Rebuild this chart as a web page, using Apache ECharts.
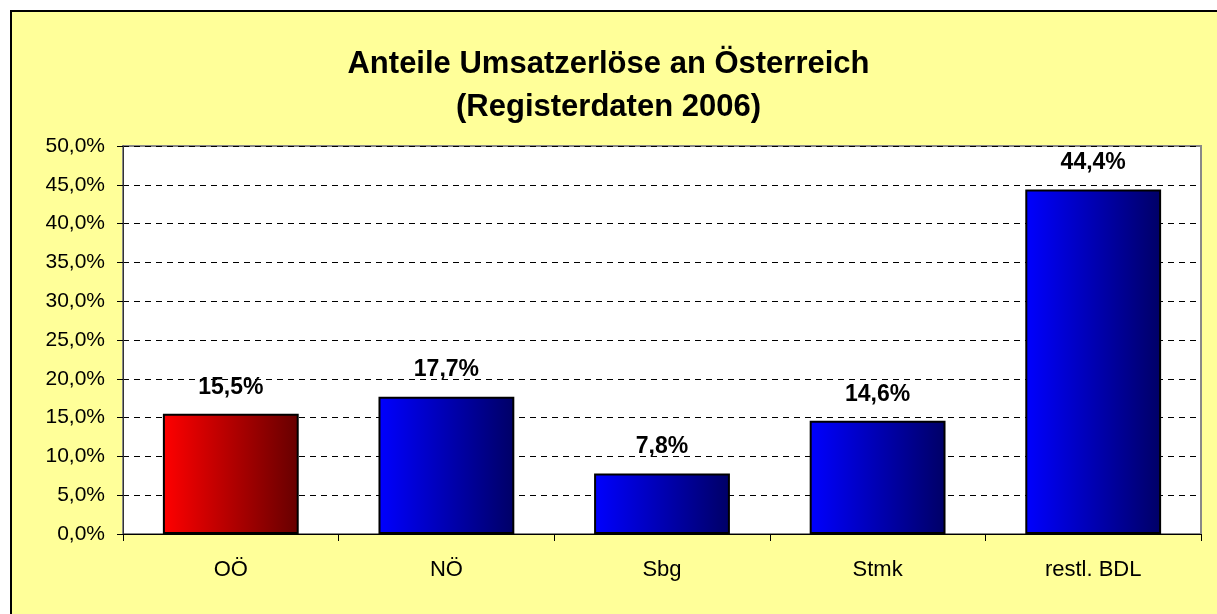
<!DOCTYPE html>
<html><head><meta charset="utf-8">
<script src="https://cdn.jsdelivr.net/npm/echarts@6/dist/echarts.min.js"></script>
<style>
html,body{margin:0;padding:0;background:#fff;}
#frame{position:absolute;left:10px;top:10px;width:1220px;height:620px;border:2px solid #000;background:#FFFF99;}
#c{position:absolute;left:0;top:0;width:1217px;height:614px;}
</style></head><body>
<div id="frame"></div>
<div id="c"></div>
<script>
const titleLines = ['Anteile Umsatzerlöse an Österreich', '(Registerdaten 2006)'];
const categories = ['OÖ', 'NÖ', 'Sbg', 'Stmk', 'restl. BDL'];
const shares = [15.5, 17.7, 7.8, 14.6, 44.4];
const highlightIndex = 0;

const fmt = v => v.toFixed(1).replace('.', ',') + '%';
const grad = (a, b) => new echarts.graphic.LinearGradient(0, 0, 1, 0, [{offset: 0, color: a}, {offset: 1, color: b}]);

const chart = echarts.init(document.getElementById('c'), null, {renderer: 'canvas'});
chart.setOption({
  backgroundColor: 'transparent',
  animation: false,
  title: {
    text: titleLines.join('\n'),
    left: 'center', top: 38,
    textStyle: {fontFamily: 'Liberation Sans', fontSize: 31, fontWeight: 'bold', color: '#000', lineHeight: 43}
  },
  grid: {left: 123, right: 16, top: 146, bottom: 80, show: true, backgroundColor: '#fff', borderColor: '#888', borderWidth: 2},
  xAxis: {
    type: 'category', data: categories,
    axisLine: {lineStyle: {color: '#000', width: 1}},
    axisTick: {show: true, length: 7, lineStyle: {color: '#000'}},
    axisLabel: {fontFamily: 'Liberation Sans', fontSize: 22, color: '#000', margin: 25}
  },
  yAxis: {
    type: 'value', min: 0, max: 50, interval: 5,
    axisLine: {show: true, lineStyle: {color: '#333'}},
    axisTick: {show: true, length: 6, lineStyle: {color: '#000'}},
    axisLabel: {fontFamily: 'Liberation Sans', fontSize: 21, color: '#000', margin: 18, formatter: v => fmt(v)},
    splitLine: {show: true, lineStyle: {color: '#000', type: [6, 5], width: 1}}
  },
  series: [{
    type: 'bar',
    data: shares.map((v, i) => ({
      value: v,
      itemStyle: {color: i === highlightIndex ? grad('#FF0000', '#660000') : grad('#0000FF', '#000066')}
    })),
    barCategoryGap: '37%',
    itemStyle: {borderColor: '#000', borderWidth: 2},
    label: {show: true, position: 'top', distance: 15, formatter: p => fmt(p.value),
      fontFamily: 'Liberation Sans', fontSize: 23, fontWeight: 'bold', color: '#000'}
  }]
});
</script>
</body></html>
